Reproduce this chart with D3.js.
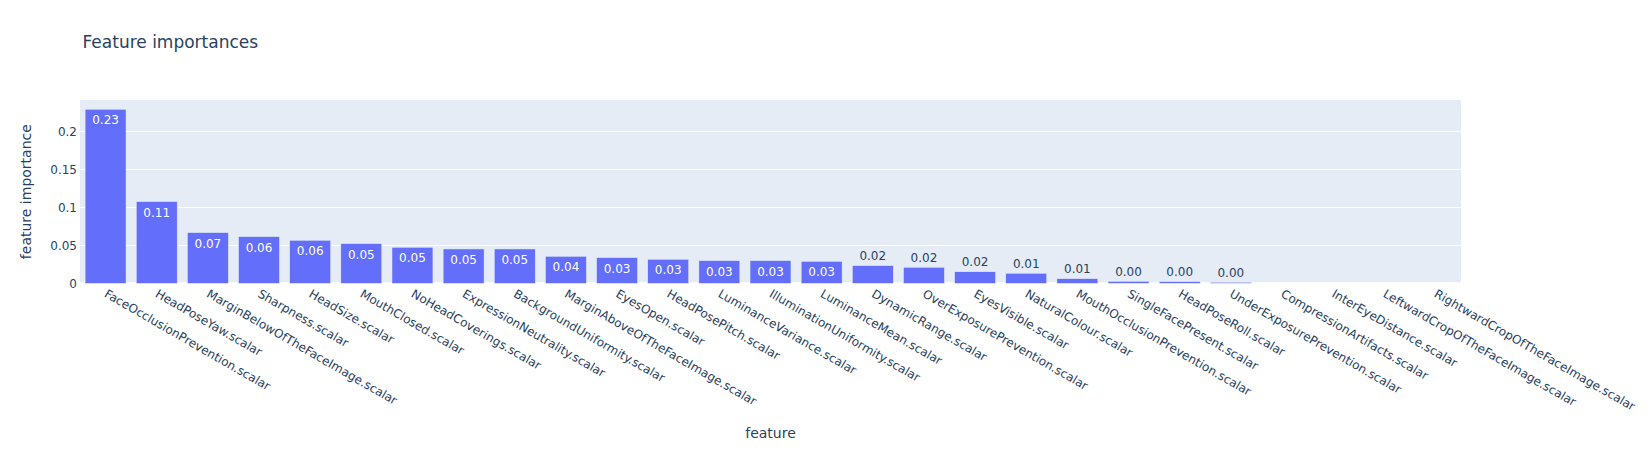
<!DOCTYPE html>
<html>
<head>
<meta charset="utf-8">
<script src="https://cdn.jsdelivr.net/npm/d3@7"></script>
<style>
  html, body { margin: 0; padding: 0; background: #fff; }
  svg { display: block; font-family: "DejaVu Sans", Verdana, sans-serif; }
</style>
</head>
<body>
<svg id="chart" width="1650" height="450"></svg>
<script>
const categories = [
  "FaceOcclusionPrevention.scalar", "HeadPoseYaw.scalar", "MarginBelowOfTheFaceImage.scalar",
  "Sharpness.scalar", "HeadSize.scalar", "MouthClosed.scalar", "NoHeadCoverings.scalar",
  "ExpressionNeutrality.scalar", "BackgroundUniformity.scalar", "MarginAboveOfTheFaceImage.scalar",
  "EyesOpen.scalar", "HeadPosePitch.scalar", "LuminanceVariance.scalar",
  "IlluminationUniformity.scalar", "LuminanceMean.scalar", "DynamicRange.scalar",
  "OverExposurePrevention.scalar", "EyesVisible.scalar", "NaturalColour.scalar",
  "MouthOcclusionPrevention.scalar", "SingleFacePresent.scalar", "HeadPoseRoll.scalar",
  "UnderExposurePrevention.scalar", "CompressionArtifacts.scalar", "InterEyeDistance.scalar",
  "LeftwardCropOfTheFaceImage.scalar", "RightwardCropOfTheFaceImage.scalar"
];
const importances = [
  0.229, 0.1075, 0.0667, 0.0614, 0.0566, 0.0522, 0.0474,
  0.0452, 0.0452, 0.0355, 0.0338, 0.0316, 0.0298,
  0.0298, 0.0289, 0.0232, 0.0211, 0.0152, 0.0132,
  0.0061, 0.0026, 0.0022, 0.0013, 0, 0, 0, 0
];
const yTicks = [0, 0.05, 0.1, 0.15, 0.2];
const yTickLabels = ["0", "0.05", "0.1", "0.15", "0.2"];
const titleText = "Feature importances";
const xTitle = "feature";
const yTitle = "feature importance";

const svg = d3.select("#chart");
const m = { left: 80, right: 1650 - 1461, top: 100, bottom: 450 - 283.3 };
const W = 1650, H = 450;
const textColor = "#2a3f5f";

const x = d3.scaleBand().domain(categories).range([m.left, W - m.right]).paddingInner(0.2).paddingOuter(0.1);
const y = d3.scaleLinear().domain([0, d3.max(importances) * 1.0533]).range([H - m.bottom, m.top]);

// background
svg.append("rect").attr("x", m.left).attr("y", m.top)
  .attr("width", W - m.left - m.right).attr("height", H - m.top - m.bottom)
  .attr("fill", "#E5ECF6");

// grid
svg.append("g").selectAll("line").data(yTicks.filter(d => d > 0)).join("line")
  .attr("x1", m.left).attr("x2", W - m.right)
  .attr("y1", d => Math.round(y(d)) + 0.5).attr("y2", d => Math.round(y(d)) + 0.5)
  .attr("stroke", "#fff").attr("stroke-width", 1);
// zero line
svg.append("line").attr("x1", m.left).attr("x2", W - m.right)
  .attr("y1", y(0)).attr("y2", y(0)).attr("stroke", "#fff").attr("stroke-width", 2);

// bars
svg.append("g").selectAll("rect").data(categories).join("rect")
  .attr("x", d => x(d))
  .attr("y", (d, i) => y(importances[i]))
  .attr("width", x.bandwidth())
  .attr("height", (d, i) => y(0) - y(importances[i]))
  .attr("fill", "#636efa")
  .attr("stroke", "#E5ECF6").attr("stroke-width", 0.5);

// bar labels
const fmt = d3.format(".2f");
svg.append("g").selectAll("text").data(categories.map((c, i) => ({ c, v: importances[i] })).filter(d => d.v > 0)).join("text")
  .attr("x", d => x(d.c) + x.bandwidth() / 2)
  .attr("y", d => {
    const h = y(0) - y(d.v);
    return h > 20 ? y(d.v) + 15 : y(d.v) - 5.5;
  })
  .attr("text-anchor", "middle")
  .attr("font-size", 12)
  .attr("fill", d => (y(0) - y(d.v)) > 20 ? "#fff" : textColor)
  .text(d => fmt(d.v));

// y axis tick labels
const yAxis = d3.axisLeft(y).tickValues(yTicks).tickSize(0).tickPadding(3)
  .tickFormat((d, i) => yTickLabels[i]);
const gy = svg.append("g").attr("transform", `translate(${m.left},0)`).call(yAxis);
gy.select(".domain").remove();
gy.selectAll("text").attr("font-size", 12).attr("fill", textColor)
  .attr("font-family", "DejaVu Sans, Verdana, sans-serif");

// x axis tick labels (rotated 30deg)
const xAxis = d3.axisBottom(x).tickSize(0).tickPadding(0);
const gx = svg.append("g").attr("transform", `translate(0,${y(0)})`).call(xAxis);
gx.select(".domain").remove();
gx.selectAll("text")
  .attr("font-size", 12).attr("fill", textColor)
  .attr("font-family", "DejaVu Sans, Verdana, sans-serif")
  .attr("text-anchor", "start")
  .attr("x", 0).attr("y", 0).attr("dy", "0.35em")
  .attr("transform", "translate(0,9.3) rotate(30)");

// titles
svg.append("text").attr("x", 82.5).attr("y", 48).attr("font-size", 17).attr("fill", textColor).text(titleText);
svg.append("text").attr("x", (m.left + W - m.right) / 2).attr("y", 438)
  .attr("text-anchor", "middle").attr("font-size", 14).attr("fill", textColor).text(xTitle);
svg.append("text").attr("transform", `translate(30.5,${(m.top + H - m.bottom) / 2}) rotate(-90)`)
  .attr("text-anchor", "middle").attr("font-size", 14).attr("fill", textColor).text(yTitle);
</script>
</body>
</html>
